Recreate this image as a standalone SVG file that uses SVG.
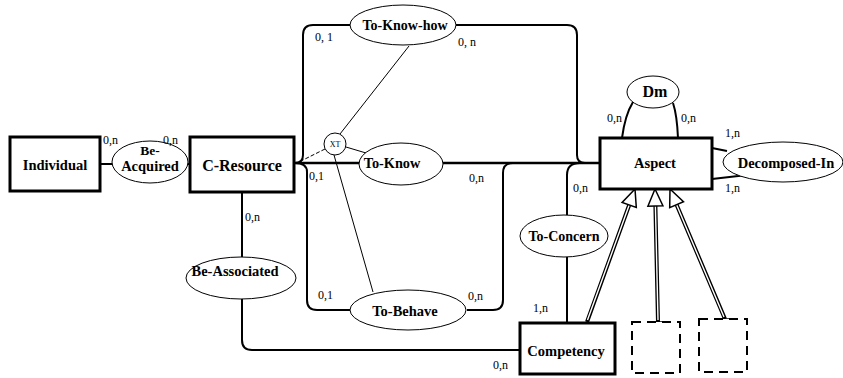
<svg xmlns="http://www.w3.org/2000/svg" width="843" height="378" viewBox="0 0 843 378" font-family="'Liberation Serif','Times New Roman','DejaVu Serif',serif">
<style>
.ent{fill:#fff;stroke:#000;stroke-width:3}
.rel{fill:#fff;stroke:#000;stroke-width:1}
.dash{fill:#fff;stroke:#000;stroke-width:2;stroke-dasharray:9,6}
.c{fill:none;stroke:#000;stroke-width:2}
.thin{fill:none;stroke:#000;stroke-width:1}
text{font-family:'Liberation Serif','Times New Roman','DejaVu Serif',serif}
.t{font-weight:bold;text-anchor:middle;fill:#000}
.l{font-size:12px;fill:#000}
.gb{stroke:#000;stroke-width:4;fill:none}
.gw{stroke:#fff;stroke-width:1.4;fill:none}
.tri{fill:#fff;stroke:#000;stroke-width:1.5}
</style>
<rect width="843" height="378" fill="#fff"/>
<g id="connectors">
<path class="c" d="M100,164 L112,164 M188,164 L190,164"/>
<path class="c" d="M242,192 L242,257 M242,298 L242,340 Q242,350 252,350 L520,350"/>
<path class="c" d="M295,163 Q303,163 303,155 L303,35 Q303,25 313,25 L350,25 M456,25 L567,25 Q577,25 577,35 L577,155 Q577,163 585,163 L600,163"/>
<path class="c" d="M295,163 L360,163 M443,163 L600,163" style="stroke-width:2.5"/>
<path class="c" d="M295,163 Q307,163 307,172 L307,300 Q307,310 317,310 L350,310 M467,310 L493,310 Q503,310 503,300 L503,173 Q503,163 513,163"/>
<path class="c" d="M580,163 Q567,163 567,175 L567,215 M567,257 L567,323"/>
<path class="c" d="M622,138 Q625,115 633,102 M678,138 Q677,115 673,103"/>
<path class="c" d="M712,148 L727,151 M712,179 L747,175"/>
<path class="thin" d="M340,134 L409,46 M346,147 L366,153 M334,155 L373,292"/>
<path class="thin" d="M325,149 L297,163" stroke-dasharray="4,2"/>
<path class="gb" d="M587,322 L629.2,205 M658,322 L655.4,206 M725,319 L676.6,204.7"/>
<path class="gw" d="M587.5,320 L629.2,205 M658,320 L655.4,206 M724,317 L676.6,204.7"/>
<path class="c" d="M653,322 L663,322 M720,319 L730,319" style="stroke-width:1.5"/>
<polygon class="tri" points="635,189 636.3,207.5 622.1,202.5"/>
<polygon class="tri" points="655,189 662.9,205.8 647.9,206.2"/>
<polygon class="tri" points="670,189 683.5,201.8 669.7,207.6"/>
</g>
<g id="Individual"><rect class="ent" x="10" y="137" width="90" height="54"/><text class="t" x="55" y="170" font-size="14.5">Individual</text></g>
<g id="C-Resource"><rect class="ent" x="190" y="137" width="104" height="55"/><text class="t" x="242" y="171" font-size="16">C-Resource</text></g>
<g id="Aspect"><rect class="ent" x="600" y="138" width="112" height="51"/><text class="t" x="655" y="168" font-size="14.5">Aspect</text></g>
<g id="Competency"><rect class="ent" x="520" y="323" width="95" height="51"/><text class="t" x="566" y="356" font-size="14.5">Competency</text></g>
<g id="Sub1"><rect class="dash" x="632" y="322" width="48" height="51"/></g>
<g id="Sub2"><rect class="dash" x="699" y="319" width="48" height="53"/></g>
<g id="Be-Acquired"><ellipse class="rel" cx="150" cy="162" rx="38" ry="21"/><text class="t" x="150" y="155" font-size="13.5">Be-</text><text class="t" x="150" y="171" font-size="14.5">Acquired</text></g>
<g id="To-Know-how"><ellipse class="rel" cx="403" cy="25" rx="53" ry="20"/><text class="t" x="405" y="30" font-size="14">To-Know-how</text></g>
<g id="To-Know"><ellipse class="rel" cx="401" cy="164" rx="42" ry="21"/><text class="t" x="392" y="168" font-size="14.3">To-Know</text></g>
<g id="To-Behave"><ellipse class="rel" cx="408" cy="310" rx="58" ry="20"/><text class="t" x="405" y="316" font-size="14.5">To-Behave</text></g>
<g id="To-Concern"><ellipse class="rel" cx="564" cy="236" rx="44" ry="21"/><text class="t" x="564" y="241" font-size="14">To-Concern</text></g>
<g id="Be-Associated"><ellipse class="rel" cx="241" cy="278" rx="55" ry="21"/><text class="t" x="235" y="276" font-size="14.5">Be-Associated</text></g>
<g id="Dm"><ellipse class="rel" cx="653" cy="92" rx="26" ry="16"/><text class="t" x="655" y="97" font-size="16">Dm</text></g>
<g id="Decomposed-In"><ellipse class="rel" cx="783" cy="162" rx="60" ry="20"/><text class="t" x="786" y="168" font-size="14.5">Decomposed-In</text></g>
<g id="XT"><circle class="rel" cx="335" cy="144" r="11"/><text x="335" y="147" font-size="8" text-anchor="middle">XT</text></g>
<g id="labels">
<text class="l" x="103" y="144">0,n</text>
<text class="l" x="163" y="144">0,n</text>
<text class="l" x="245" y="221">0,n</text>
<text class="l" x="315" y="41">0, 1</text>
<text class="l" x="458" y="46">0, n</text>
<text class="l" x="309" y="180">0,1</text>
<text class="l" x="469" y="182">0,n</text>
<text class="l" x="573" y="192">0,n</text>
<text class="l" x="318" y="299">0,1</text>
<text class="l" x="468" y="300">0,n</text>
<text class="l" x="533" y="312">1,n</text>
<text class="l" x="493" y="369">0,n</text>
<text class="l" x="607" y="122">0,n</text>
<text class="l" x="681" y="122">0,n</text>
<text class="l" x="725" y="137">1,n</text>
<text class="l" x="725" y="192">1,n</text>
</g>
</svg>
